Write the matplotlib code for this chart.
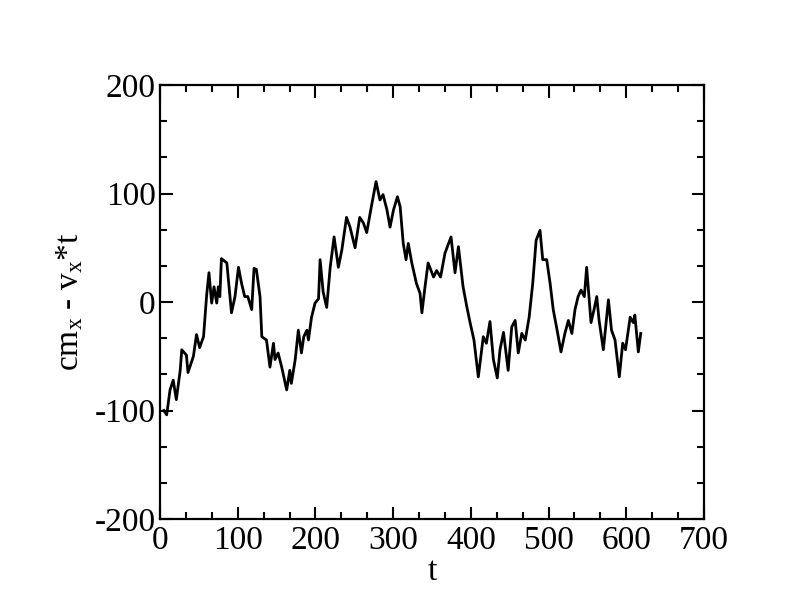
import matplotlib
matplotlib.use("Agg")
import matplotlib.pyplot as plt
from matplotlib.ticker import MultipleLocator, AutoMinorLocator

plt.rcParams['font.family'] = ['Liberation Serif', 'DejaVu Serif']
plt.rcParams['mathtext.fontset'] = 'custom'
plt.rcParams['mathtext.rm'] = 'Liberation Serif'
plt.rcParams['mathtext.it'] = 'Liberation Serif'
plt.rcParams['axes.unicode_minus'] = False

t = [5, 8.6, 12.9, 17, 21, 26, 28, 34, 36, 43, 47, 51, 56, 60, 63, 66.5, 69.5, 73, 75, 77, 79,
     86, 92, 96.5, 101, 105, 109, 113, 118, 121, 124, 128.7, 131, 137, 141.5, 146, 148, 152,
     156.6, 163, 167, 169, 174, 178, 182, 185, 189, 191, 195, 199.5, 204, 206, 210, 214.5,
     219, 224, 229.5, 234, 240, 244.5, 251, 257, 261.6, 266, 272, 278, 283, 287, 292, 296,
     300.5, 305.5, 309, 313, 316.6, 319.5, 324, 330, 334.6, 337, 341, 345, 352, 356, 361,
     366.7, 374.5, 379.6, 384, 390, 394.7, 399, 404, 409.6, 416, 420, 424.6, 429, 434, 437.5,
     442, 448, 452.6, 457, 461, 465.5, 470, 475, 479.6, 484, 489, 492.5, 497.6, 502, 506,
     511, 516, 521, 525.5, 530, 534, 538, 541.8, 546, 549, 554.6, 558.5, 562, 565, 570.5,
     577, 581, 585.5, 591, 595.4, 599, 605, 609, 611, 615.5, 618.6]
y = [-100, -104, -81, -72, -90, -63, -44, -49, -65, -50, -30, -42, -32, 6, 27, -1, 14, -1, 14, 5, 40,
     36, -10, 5, 32, 17, 5, 5, -7, 31, 30, 5, -32, -35, -60, -38, -53, -47,
     -60, -81, -63, -75, -53, -26, -47, -32, -26, -35, -14, -1, 3, 39, 9, -5,
     32, 60, 32, 48, 78, 69, 50, 78, 73, 64, 88, 111, 94, 99, 85, 69,
     85, 97, 88, 54, 39, 54, 36, 17, 8, -10, 14, 36, 23, 29, 23,
     45, 60, 27, 51, 14, -4, -19, -35, -69, -32, -38, -18, -53, -70, -44,
     -28, -63, -23, -17, -47, -29, -35, -14, 17, 57, 66, 39, 39, 17, -7,
     -26, -46, -29, -17, -29, -7, 5, 11, 5, 32, -19, -7, 5, -17, -44,
     2, -26, -35, -69, -38, -44, -14, -19, -12, -46, -29]

fig = plt.figure(figsize=(7.92, 6.12), dpi=100)
ax = fig.add_axes([160/792, 93/612, 544/792, 434/612])
ax.plot(t, y, color='black', linewidth=2.0)

ax.set_xlim(0, 700)
ax.set_ylim(-200, 200)
ax.xaxis.set_major_locator(MultipleLocator(100))
ax.yaxis.set_major_locator(MultipleLocator(100))
ax.xaxis.set_minor_locator(AutoMinorLocator(3))
ax.yaxis.set_minor_locator(AutoMinorLocator(3))
ax.tick_params(which='both', direction='in', top=True, right=True, width=1.5,
               labelsize=24, pad=5)
ax.tick_params(axis='y', pad=3)
ax.tick_params(which='major', length=9)
ax.tick_params(which='minor', length=5)
for s in ax.spines.values():
    s.set_linewidth(1.6)

ax.set_xlabel('t', fontsize=24, labelpad=0)
ax.set_ylabel(r'cm$_\mathrm{x}$ - v$_\mathrm{x}$*t', fontsize=24, labelpad=7)

fig.savefig('out.png', dpi=100)
